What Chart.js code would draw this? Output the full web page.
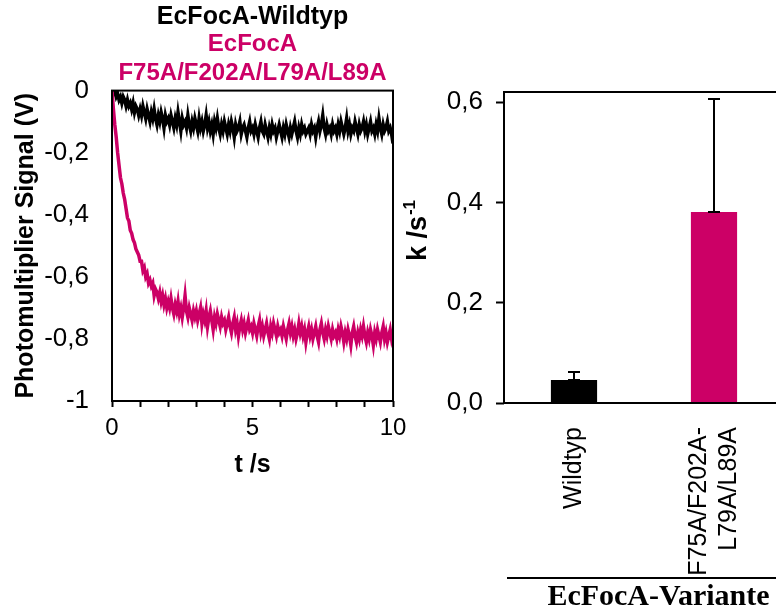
<!DOCTYPE html>
<html>
<head>
<meta charset="utf-8">
<title>EcFocA Stopped-Flow</title>
<script src="https://cdn.jsdelivr.net/npm/chart.js"></script>
<style>
    html, body {
        margin: 0;
        width: 776px;
        height: 607px;
        overflow: hidden;
        background: #fff;
    }
    body {
        position: relative;
        font-family: "Liberation Sans", Arial, sans-serif;
    }
    #traceChart { position: absolute; left: 0; top: 0; }
    #rateChart { position: absolute; left: 400px; top: 0; }
    .group-label {
        position: absolute;
        left: 507px;
        top: 577px;
        width: 303px;
        border-top: 2px solid #000;
        text-align: center;
        font: bold 30px "Liberation Serif", "Times New Roman", serif;
        line-height: 32px;
    }
</style>
</head>
<body>
<canvas id="traceChart" width="420" height="490"></canvas>
<canvas id="rateChart" width="400" height="580"></canvas>
<div class="group-label">EcFocA-Variante</div>

<script>
// stopped-flow traces, one sample every 0.05 s from 0 to 10 s
var SAMPLE_STEP = 0.05;

var wildtypSignal = [
    0, -0.01, 0.00, -0.02, -0.01, -0.03, -0.02, -0.04, -0.02, -0.03, -0.05, -0.03, -0.05, -0.04, -0.06, -0.04, -0.07, -0.05, -0.06, -0.08,
    -0.06, -0.08, -0.05, -0.07, -0.09, -0.06, -0.08, -0.10, -0.07, -0.09, -0.06, -0.09, -0.11, -0.08, -0.10, -0.07, -0.09, -0.12, -0.08, -0.10,
    -0.09, -0.11, -0.08, -0.10, -0.12, -0.09, -0.11, -0.07, -0.10, -0.13, -0.09, -0.11, -0.10, -0.12, -0.08, -0.11, -0.13, -0.10, -0.12, -0.09,
    -0.11, -0.13, -0.09, -0.12, -0.10, -0.13, -0.11, -0.08, -0.12, -0.10, -0.13, -0.11, -0.14, -0.10, -0.12, -0.09, -0.12, -0.14, -0.11, -0.13,
    -0.10, -0.12, -0.14, -0.11, -0.13, -0.10, -0.12, -0.15, -0.11, -0.13, -0.12, -0.10, -0.14, -0.12, -0.11, -0.13, -0.15, -0.12, -0.10, -0.13,
    -0.12, -0.14, -0.11, -0.13, -0.15, -0.12, -0.10, -0.13, -0.14, -0.11, -0.13, -0.15, -0.12, -0.14, -0.11, -0.13, -0.12, -0.15, -0.13, -0.11,
    -0.13, -0.15, -0.12, -0.14, -0.11, -0.13, -0.15, -0.12, -0.14, -0.12, -0.10, -0.13, -0.15, -0.12, -0.14, -0.11, -0.13, -0.12, -0.14, -0.13,
    -0.12, -0.14, -0.11, -0.13, -0.12, -0.15, -0.12, -0.10, -0.13, -0.11, -0.08, -0.12, -0.14, -0.11, -0.13, -0.12, -0.14, -0.11, -0.13, -0.12,
    -0.14, -0.11, -0.13, -0.10, -0.12, -0.14, -0.12, -0.09, -0.13, -0.11, -0.14, -0.12, -0.13, -0.10, -0.12, -0.14, -0.11, -0.13, -0.12, -0.10,
    -0.13, -0.11, -0.14, -0.12, -0.10, -0.13, -0.12, -0.14, -0.11, -0.13, -0.09, -0.12, -0.14, -0.11, -0.13, -0.12, -0.10, -0.13, -0.12, -0.14,
    -0.17
];

var mutantSignal = [
    0, -0.06, -0.11, -0.15, -0.20, -0.24, -0.28, -0.30, -0.33, -0.35, -0.38, -0.41, -0.42, -0.45, -0.46, -0.48, -0.49, -0.51, -0.52, -0.53,
    -0.55, -0.55, -0.58, -0.57, -0.60, -0.59, -0.62, -0.61, -0.63, -0.62, -0.66, -0.64, -0.65, -0.67, -0.65, -0.68, -0.66, -0.69, -0.67, -0.70,
    -0.68, -0.70, -0.67, -0.70, -0.72, -0.69, -0.71, -0.68, -0.72, -0.70, -0.73, -0.70, -0.66, -0.71, -0.73, -0.70, -0.72, -0.74, -0.71, -0.73,
    -0.71, -0.74, -0.72, -0.70, -0.75, -0.72, -0.74, -0.71, -0.76, -0.73, -0.71, -0.74, -0.77, -0.73, -0.75, -0.72, -0.74, -0.76, -0.73, -0.75,
    -0.74, -0.77, -0.75, -0.73, -0.76, -0.78, -0.75, -0.73, -0.77, -0.75, -0.79, -0.76, -0.74, -0.77, -0.75, -0.78, -0.76, -0.74, -0.77, -0.76,
    -0.78, -0.75, -0.77, -0.79, -0.76, -0.74, -0.78, -0.76, -0.79, -0.77, -0.75, -0.78, -0.80, -0.76, -0.78, -0.75, -0.77, -0.79, -0.76, -0.78,
    -0.77, -0.79, -0.76, -0.78, -0.80, -0.77, -0.75, -0.78, -0.76, -0.79, -0.77, -0.80, -0.78, -0.75, -0.78, -0.76, -0.79, -0.77, -0.81, -0.78,
    -0.76, -0.79, -0.77, -0.80, -0.78, -0.76, -0.79, -0.81, -0.77, -0.75, -0.78, -0.80, -0.77, -0.79, -0.76, -0.78, -0.80, -0.77, -0.79, -0.78,
    -0.80, -0.77, -0.79, -0.76, -0.78, -0.81, -0.78, -0.80, -0.77, -0.79, -0.82, -0.78, -0.76, -0.79, -0.81, -0.78, -0.80, -0.77, -0.79, -0.76,
    -0.79, -0.81, -0.78, -0.80, -0.77, -0.79, -0.82, -0.78, -0.80, -0.77, -0.79, -0.81, -0.78, -0.76, -0.80, -0.78, -0.81, -0.79, -0.77, -0.80,
    -0.78
];

// rate constants (k, 1/s) with standard deviation
// the leading '' keeps the single-line label centred under its bar
var variants = [['', 'Wildtyp'], ['F75A/F202A-', 'L79A/L89A']];
var rateValues = [0.046, 0.381];
var rateErrors = [0.016, 0.225];
var rateTicks = [0, 0.2, 0.4, 0.6];

var MAGENTA = '#cc0066';
var FAMILY = '"Liberation Sans", Arial, sans-serif';
var tickFont = { family: FAMILY, size: 24 };
var valueFont = { family: FAMILY, size: 26 };
var boldFont = { family: FAMILY, size: 25, weight: 'bold' };

function toPoints(values) {
    return values.map(function (v, i) { return { x: i * SAMPLE_STEP, y: v }; });
}

// closed box around the plot area
var frame = {
    id: 'frame',
    afterDatasetsDraw: function (chart) {
        var ctx = chart.ctx, a = chart.chartArea;
        ctx.save();
        ctx.strokeStyle = '#000';
        ctx.lineWidth = 2;
        ctx.strokeRect(a.left, a.top, a.right - a.left, a.bottom - a.top);
        ctx.restore();
    }
};

// upward error bars on the bars
var errorBars = {
    id: 'errorBars',
    afterDatasetsDraw: function (chart) {
        var ctx = chart.ctx, y = chart.scales.y;
        var meta = chart.getDatasetMeta(0);
        ctx.save();
        ctx.strokeStyle = '#000';
        ctx.lineWidth = 2;
        meta.data.forEach(function (bar, i) {
            var yMid = y.getPixelForValue(rateValues[i]);
            var yTop = y.getPixelForValue(rateValues[i] + rateErrors[i]);
            ctx.beginPath();
            ctx.moveTo(bar.x, yMid);
            ctx.lineTo(bar.x, yTop);
            ctx.moveTo(bar.x - 6, yTop);
            ctx.lineTo(bar.x + 6, yTop);
            ctx.moveTo(bar.x - 6, yMid);
            ctx.lineTo(bar.x + 6, yMid);
            ctx.stroke();
        });
        ctx.restore();
    }
};

// y title with superscript unit: k /s^-1
var rateAxisTitle = {
    id: 'rateAxisTitle',
    afterDraw: function (chart) {
        var ctx = chart.ctx;
        ctx.save();
        ctx.translate(19, 231);
        ctx.rotate(-Math.PI / 2);
        ctx.fillStyle = '#000';
        ctx.textBaseline = 'middle';
        ctx.textAlign = 'left';
        ctx.font = 'bold 27px ' + FAMILY;
        var main = 'k /s';
        var w = ctx.measureText(main).width;
        ctx.font = 'bold 17px ' + FAMILY;
        var ws = ctx.measureText('-1').width;
        var x0 = -(w + ws) / 2;
        ctx.font = 'bold 27px ' + FAMILY;
        ctx.fillText(main, x0, 0);
        ctx.font = 'bold 17px ' + FAMILY;
        ctx.fillText('-1', x0 + w + 1, -9);
        ctx.restore();
    }
};

function signalLabel(v) {
    var r = Math.round(v * 10) / 10;
    if (r === 0) return '0';
    if (r === -1) return '-1';
    return r.toFixed(1).replace('.', ',');
}

new Chart(document.getElementById('traceChart'), {
    type: 'line',
    data: {
        datasets: [{
            label: 'EcFocA F75A/F202A/L79A/L89A',
            data: toPoints(mutantSignal),
            borderColor: MAGENTA,
            borderWidth: 3.5,
            pointRadius: 0,
            tension: 0,
            order: 0
        }, {
            label: 'EcFocA-Wildtyp',
            data: toPoints(wildtypSignal),
            borderColor: '#000',
            borderWidth: 3.5,
            pointRadius: 0,
            tension: 0,
            order: 1
        }]
    },
    options: {
        responsive: false,
        animation: false,
        layout: { padding: { right: 27 } },
        plugins: {
            legend: { display: false },
            tooltip: { enabled: false },
            title: {
                display: true,
                fullSize: false,
                text: 'EcFocA-Wildtyp',
                color: '#000',
                font: { family: FAMILY, size: 25, weight: 'bold', lineHeight: 1.0 },
                padding: { top: 5, bottom: 0 }
            },
            subtitle: {
                display: true,
                fullSize: false,
                text: ['EcFocA', 'F75A/F202A/L79A/L89A'],
                color: MAGENTA,
                font: { family: FAMILY, size: 24, weight: 'bold', lineHeight: 1.2 },
                padding: { top: 0, bottom: 3 }
            }
        },
        scales: {
            x: {
                type: 'linear',
                min: 0,
                max: 10,
                ticks: {
                    stepSize: 1,
                    autoSkip: false,
                    maxRotation: 0,
                    font: tickFont,
                    color: '#000',
                    padding: 7,
                    callback: function (v) { return v % 5 === 0 ? v : ''; }
                },
                grid: { drawOnChartArea: false, tickLength: 6, tickWidth: 2, tickColor: '#000' },
                border: { display: false },
                title: { display: true, text: 't /s', color: '#000', font: boldFont, padding: { top: 0, bottom: 10 } },
                afterFit: function (s) { s.height = 89; }
            },
            y: {
                min: -1,
                max: 0,
                ticks: { stepSize: 0.2, font: valueFont, color: '#000', padding: 15, callback: signalLabel },
                grid: { display: false },
                border: { display: false },
                title: {
                    display: true,
                    text: 'Photomultiplier Signal (V)',
                    color: '#000',
                    font: boldFont,
                    padding: { top: 11, bottom: 0 }
                },
                afterFit: function (s) { s.width = 112; }
            }
        }
    },
    plugins: [frame]
});

new Chart(document.getElementById('rateChart'), {
    type: 'bar',
    data: {
        labels: variants,
        datasets: [{
            label: 'k',
            data: rateValues,
            backgroundColor: ['#000', MAGENTA],
            categoryPercentage: 1,
            barPercentage: 0.33
        }]
    },
    options: {
        responsive: false,
        animation: false,
        layout: { padding: { top: 92, right: 16 } },
        plugins: {
            legend: { display: false },
            tooltip: { enabled: false }
        },
        scales: {
            x: {
                ticks: {
                    color: '#000',
                    minRotation: 90,
                    maxRotation: 90,
                    padding: 16,
                    autoSkip: false,
                    labelOffset: -15,
                    // first label: short spacer line so the text lands on the tick
                    font: function (c) {
                        return c.index === 0
                            ? { family: FAMILY, size: 25, lineHeight: 15 / 25 }
                            : { family: FAMILY, size: 25, lineHeight: 1.2 };
                    }
                },
                grid: { display: false },
                border: { display: false },
                afterFit: function (s) { s.height = 177; }
            },
            y: {
                min: 0,
                max: 0.62,
                ticks: {
                    font: valueFont,
                    color: '#000',
                    padding: 13,
                    callback: function (v) { return v.toFixed(1).replace('.', ','); }
                },
                afterBuildTicks: function (s) {
                    s.ticks = rateTicks.map(function (v) { return { value: v }; });
                },
                grid: { drawOnChartArea: false, tickLength: 8, tickWidth: 2, tickColor: '#000' },
                border: { display: false },
                afterFit: function (s) { s.width = 104; }
            }
        }
    },
    plugins: [frame, errorBars, rateAxisTitle]
});
</script>
</body>
</html>
